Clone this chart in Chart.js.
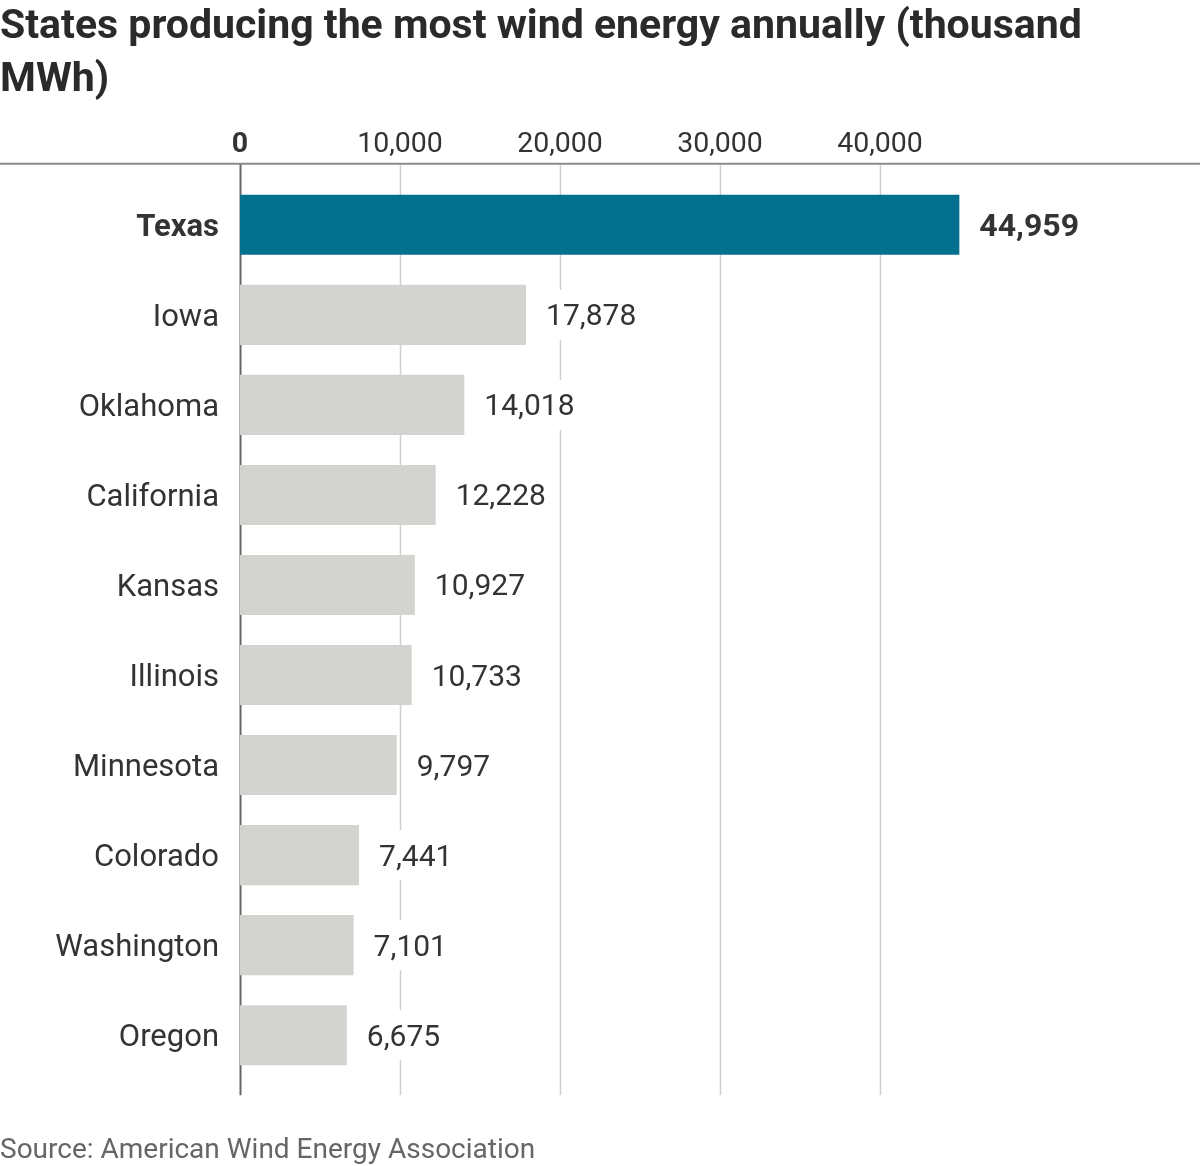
<!DOCTYPE html>
<html>
<head>
<meta charset="utf-8">
<script src="https://cdn.jsdelivr.net/npm/chart.js@4"></script>
<style>
  html, body { margin: 0; padding: 0; background: #fff; }
  #wrap { width: 1200px; height: 1166px; }
</style>
</head>
<body>
<div id="wrap"><canvas id="windChart"></canvas></div>
<script>
// Données du graphique
const states = ['Texas', 'Iowa', 'Oklahoma', 'California', 'Kansas', 'Illinois', 'Minnesota', 'Colorado', 'Washington', 'Oregon'];
const production = [44959, 17878, 14018, 12228, 10927, 10733, 9797, 7441, 7101, 6675];
const tickValues = [0, 10000, 20000, 30000, 40000];

const FONT = 'Roboto, "Noto Sans", sans-serif';

// Lignes de grille verticales + filet horizontal en haut
const gridLines = {
    id: 'gridLines',
    beforeDatasetsDraw(chart) {
        const { ctx, chartArea, scales: { x } } = chart;
        const top = chartArea.top - 16;
        const bottom = chartArea.bottom + 15;
        ctx.save();
        x.ticks.forEach(t => {
            const px = Math.round(x.getPixelForValue(t.value)) + 0.5;
            ctx.strokeStyle = t.value === 0 ? '#666' : '#cfcfcf';
            ctx.lineWidth = t.value === 0 ? 2 : 1.5;
            ctx.beginPath();
            ctx.moveTo(px, top);
            ctx.lineTo(px, bottom);
            ctx.stroke();
        });
        ctx.strokeStyle = '#8a8a8a';
        ctx.lineWidth = 2;
        ctx.beginPath();
        ctx.moveTo(0, top);
        ctx.lineTo(chart.width, top);
        ctx.stroke();
        ctx.restore();
    }
};

// Étiquettes de valeur au bout des barres, sur fond blanc
const valueLabels = {
    id: 'valueLabels',
    afterDatasetsDraw(chart) {
        const { ctx } = chart;
        const meta = chart.getDatasetMeta(0);
        ctx.save();
        meta.data.forEach((bar, i) => {
            const text = production[i].toLocaleString('en-US');
            ctx.font = i === 0 ? 'bold 32px ' + FONT : '30px ' + FONT;
            const w = ctx.measureText(text).width;
            const x0 = bar.x + 20;
            ctx.fillStyle = '#fff';
            ctx.fillRect(x0 - 6, bar.y - 25, w + 12, 50);
            ctx.fillStyle = '#333';
            ctx.textBaseline = 'middle';
            ctx.textAlign = 'left';
            ctx.fillText(text, x0, bar.y + 3);
        });
        ctx.restore();
    }
};

const ctx = document.getElementById('windChart').getContext('2d');
new Chart(ctx, {
    type: 'bar',
    data: {
        labels: states,
        datasets: [{
            data: production,
            backgroundColor: states.map((s, i) => i === 0 ? '#03708f' : '#d3d4cf'),
            borderWidth: 0,
            barPercentage: 0.667,
            categoryPercentage: 1
        }]
    },
    options: {
        indexAxis: 'y',
        responsive: true,
        maintainAspectRatio: false,
        animation: false,
        layout: { padding: 0 },
        plugins: {
            legend: { display: false },
            tooltip: { enabled: false },
            title: {
                display: true,
                text: ['States producing the most wind energy annually (thousand', 'MWh)'],
                align: 'start',
                color: '#2a2a2a',
                font: { family: FONT, size: 41, weight: 'bold', lineHeight: 1.3 },
                padding: { top: 1, bottom: 2 }
            },
            subtitle: {
                display: true,
                position: 'bottom',
                text: 'Source: American Wind Energy Association',
                align: 'start',
                color: '#666',
                font: { family: FONT, size: 28, lineHeight: 1.1 },
                padding: { top: 55, bottom: 0 }
            }
        },
        scales: {
            x: {
                position: 'top',
                min: 0,
                max: 60000,
                afterBuildTicks: scale => {
                    scale.ticks = tickValues.map(v => ({ value: v }));
                },
                grid: { display: false, drawTicks: false },
                border: { display: false },
                ticks: {
                    padding: 18,
                    color: '#333',
                    font: c => ({ family: FONT, size: 28.5, weight: c.tick && c.tick.value === 0 ? 'bold' : 'normal', lineHeight: 1.2 }),
                    callback: v => v.toLocaleString('en-US')
                }
            },
            y: {
                afterFit: scale => { scale.width = 240; },
                grid: { display: false, drawTicks: false },
                border: { display: false },
                ticks: {
                    padding: 21,
                    labelOffset: 3,
                    color: '#333',
                    font: c => ({ family: FONT, size: 31, weight: c.index === 0 ? 'bold' : 'normal' })
                }
            }
        }
    },
    plugins: [gridLines, valueLabels]
});
</script>
</body>
</html>
